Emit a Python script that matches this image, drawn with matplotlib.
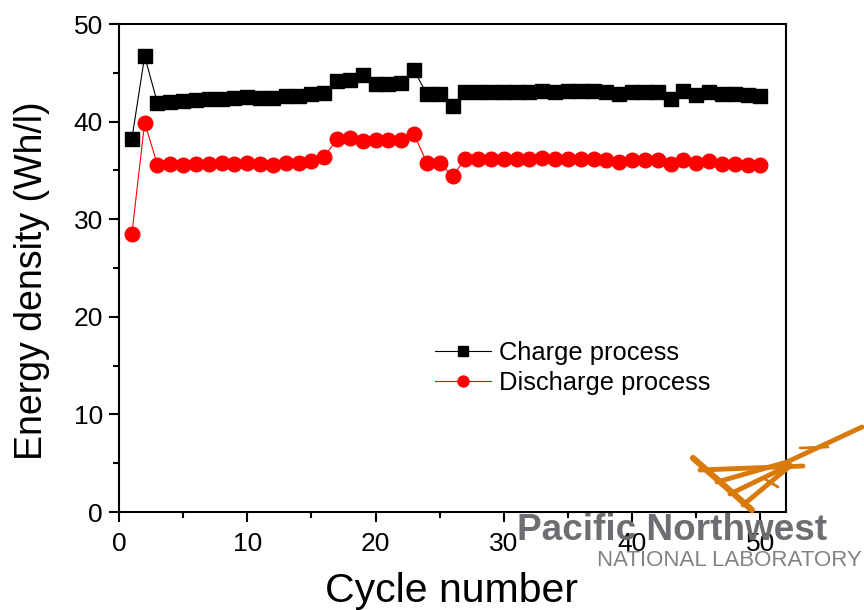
import numpy as np
import matplotlib.pyplot as plt
from matplotlib.lines import Line2D

plt.rcParams['font.family'] = ['Liberation Sans', 'DejaVu Sans']

cycles = np.arange(1, 51)
charge = [38.2, 46.7, 41.9, 42.0, 42.1, 42.2, 42.3, 42.35, 42.4, 42.5,
          42.45, 42.45, 42.6, 42.6, 42.8, 42.9, 44.2, 44.3, 44.8, 43.9,
          43.9, 43.95, 45.3, 42.8, 42.8, 41.6, 43.0, 43.0, 43.0, 43.0,
          43.0, 43.05, 43.1, 43.05, 43.1, 43.1, 43.15, 43.05, 42.8, 43.05,
          43.05, 43.0, 42.35, 43.1, 42.7, 43.0, 42.8, 42.8, 42.7, 42.65]
discharge = [28.45, 39.9, 35.55, 35.65, 35.6, 35.65, 35.7, 35.75, 35.7, 35.75,
             35.65, 35.55, 35.8, 35.8, 36.0, 36.4, 38.2, 38.3, 38.05, 38.1,
             38.1, 38.1, 38.7, 35.8, 35.8, 34.4, 36.2, 36.2, 36.2, 36.2,
             36.2, 36.2, 36.25, 36.15, 36.2, 36.2, 36.2, 36.1, 35.85, 36.1,
             36.1, 36.1, 35.65, 36.1, 35.8, 36.0, 35.65, 35.7, 35.6, 35.6]

fig = plt.figure(figsize=(8.64, 6.1), dpi=100)
ax = fig.add_axes([119 / 864, 1 - 512 / 610, 667 / 864, 488 / 610])

ax.plot(cycles, charge, color='black', lw=0.8, marker='s', ms=9.5,
        mec='black', mfc='black', label='Charge process')
ax.plot(cycles, discharge, color='red', lw=0.8, marker='o', ms=10.5,
        mec='red', mfc='red', label='Discharge process')

ax.set_xlim(0, 52)
ax.set_ylim(0, 50)
ax.set_xticks([0, 10, 20, 30, 40, 50])
ax.set_yticks([0, 10, 20, 30, 40, 50])
ax.set_xticks(np.arange(5, 52, 10), minor=True)
ax.set_yticks(np.arange(5, 50, 10), minor=True)
ax.tick_params(which='major', direction='out', length=7.5, width=1.5, labelsize=19)
ax.tick_params(axis='x', which='major', pad=7)
ax.tick_params(axis='y', which='major', pad=4)
ax.tick_params(which='minor', direction='out', length=4, width=1.5)
for s in ax.spines.values():
    s.set_linewidth(1.5)

ax.set_xlabel('Cycle number', fontsize=29.5)
ax.set_ylabel('Energy density (Wh/l)', fontsize=27)
ax.xaxis.set_label_coords(0.498, -0.1233)
ax.yaxis.set_label_coords(-0.1034, 0.475)

ax.legend(loc='center left', bbox_to_anchor=(0.474, 0.295), frameon=False,
          fontsize=18.4, handlelength=2.2, handletextpad=0.3,
          labelspacing=0.25, borderpad=0, borderaxespad=0, markerscale=0.75)

# PNNL logo
orange = '#d97a0c'
strokes = [([693, 752], [458, 510], 4.5),
           ([700, 803], [470, 466], 3.5),
           ([717, 787, 862], [482, 462, 427], 3.5),
           ([730, 790], [494, 465], 3.5),
           ([743, 790], [505, 466], 3.5),
           ([800, 828], [448, 447], 2.0),
           ([765, 778], [479, 487], 2.0)]
for xs, ys, w in strokes:
    fig.add_artist(Line2D([x / 864 for x in xs], [1 - y / 610 for y in ys],
                          color=orange, lw=w, solid_capstyle='round'))
fig.text(517 / 864, 1 - 531 / 610, 'Pacific Northwest', fontsize=26.6,
         fontweight='bold', color='#6d6e71', va='center')
fig.text(597 / 864, 1 - 561 / 610, 'NATIONAL LABORATORY', fontsize=16,
         color='#808285', va='center')

fig.savefig('out.png', dpi=100)
